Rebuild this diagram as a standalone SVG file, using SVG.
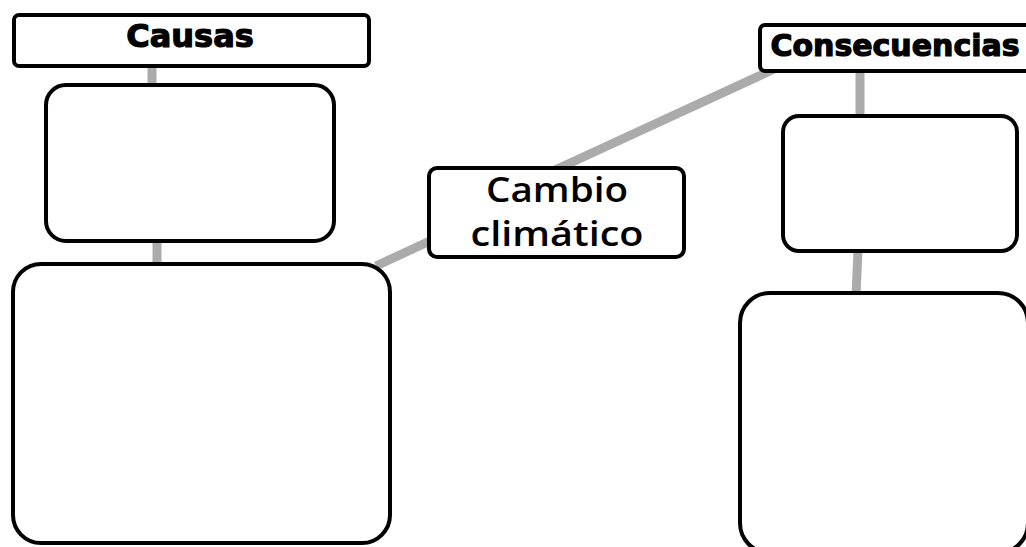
<svg xmlns="http://www.w3.org/2000/svg" width="1026" height="547" viewBox="0 0 1026 547">
  <style>
    .box { fill: #ffffff; stroke: #000000; stroke-width: 4; }
    .conn { stroke: #ababab; stroke-width: 9; fill: none; }
    .head { font-family: "DejaVu Sans", "Liberation Sans", sans-serif; font-weight: bold; fill: #000000; stroke: #000000; stroke-width: 1.2; text-anchor: middle; }
    .center { font-family: "Open Sans", "Noto Sans", sans-serif; font-weight: 600; fill: #000000; text-anchor: middle; font-size: 35px; }
  </style>
  <rect width="1026" height="547" fill="#ffffff"/>
  <g id="connectors">
    <line class="conn" x1="152" y1="66" x2="152" y2="86"/>
    <line class="conn" x1="157" y1="240" x2="157" y2="266"/>
    <line class="conn" x1="376" y1="266" x2="432" y2="240"/>
    <line class="conn" x1="555" y1="170" x2="785" y2="64"/>
    <line class="conn" x1="860" y1="70" x2="860" y2="118"/>
    <line class="conn" x1="858" y1="250" x2="856" y2="295"/>
  </g>
  <g id="causas">
    <rect class="box" x="14" y="15" width="355" height="51" rx="5"/>
    <text class="head" x="190" y="47" font-size="32">Causas</text>
  </g>
  <g id="causa-box-1">
    <rect class="box" x="46" y="85" width="288" height="156" rx="20"/>
  </g>
  <g id="causa-box-2">
    <rect class="box" x="13" y="264" width="377" height="279" rx="28"/>
  </g>
  <g id="cambio-climatico">
    <rect class="box" x="429" y="168" width="255" height="89" rx="8"/>
    <text class="center" x="557" y="202" textLength="142" lengthAdjust="spacingAndGlyphs">Cambio</text>
    <text class="center" x="557" y="246" textLength="173" lengthAdjust="spacingAndGlyphs">climático</text>
  </g>
  <g id="consecuencias">
    <rect class="box" x="760" y="25" width="300" height="46" rx="5"/>
    <text class="head" x="895" y="56" font-size="30">Consecuencias</text>
  </g>
  <g id="consecuencia-box-1">
    <rect class="box" x="783" y="116" width="234" height="135" rx="16"/>
  </g>
  <g id="consecuencia-box-2">
    <rect class="box" x="740" y="293" width="288" height="260" rx="30"/>
  </g>
</svg>
